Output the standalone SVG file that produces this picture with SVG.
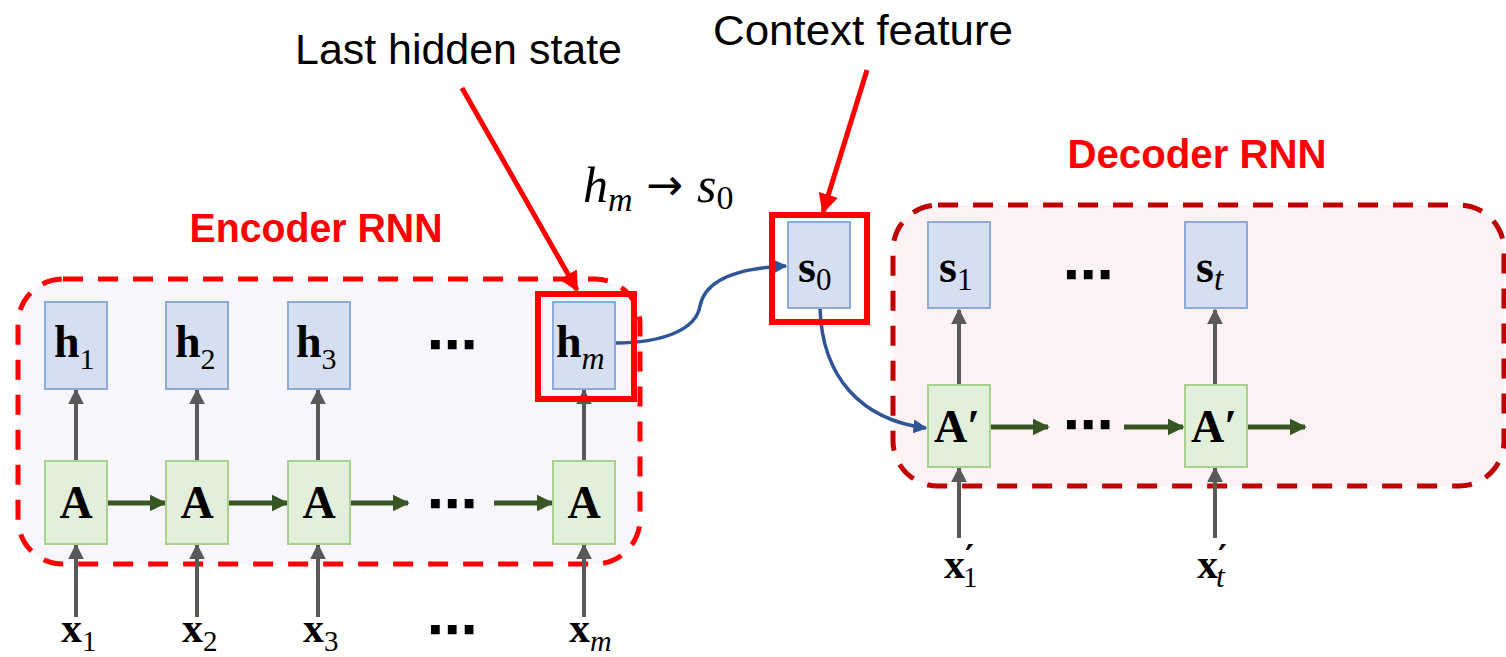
<svg xmlns="http://www.w3.org/2000/svg" width="1506" height="657" viewBox="0 0 1506 657">
  <defs>
    <style>
      .group-enc { fill: #f8f6fc; stroke: #ff0000; stroke-width: 5; stroke-dasharray: 20 15; }
      .group-dec { fill: #fcf2f3; stroke: #c00000; stroke-width: 5; stroke-dasharray: 20 15; }
      .hbox { fill: #d5dff0; stroke: #8eaadb; stroke-width: 2; }
      .abox { fill: #e2efda; stroke: #a9d18e; stroke-width: 2; }
      .hl { fill: none; stroke: #ff0000; stroke-width: 6; }
      .gray { stroke: #595959; stroke-width: 4; fill: none; marker-end: url(#ah-gray); }
      .green { stroke: #375623; stroke-width: 5; fill: none; marker-end: url(#ah-green); }
      .blue { stroke: #2f5597; stroke-width: 3.5; fill: none; marker-end: url(#ah-blue); }
      .red { stroke: #ff0000; stroke-width: 5; fill: none; marker-end: url(#ah-red); }
      .math { font-family: "Liberation Serif", "DejaVu Serif", serif; fill: #000; }
      .bold { font-weight: bold; }
      .it { font-style: italic; }
      .prime { font-family: "DejaVu Sans", sans-serif; font-weight: bold; }
      .sans { font-family: "Liberation Sans", Arial, sans-serif; fill: #000; }
      .title { font-family: "Liberation Sans", Arial, sans-serif; font-weight: bold; fill: #ff0000; font-size: 40px; }
      .dots { font-family: "DejaVu Sans", sans-serif; font-size: 50px; font-weight: bold; fill: #000; }
    </style>
    <marker id="ah-gray" viewBox="0 0 10 10" refX="9" refY="5" markerWidth="4" markerHeight="4" markerUnits="strokeWidth" orient="auto">
      <path d="M0,0 L10,5 L0,10 z" fill="#595959"/>
    </marker>
    <marker id="ah-green" viewBox="0 0 10 10" refX="9" refY="5" markerWidth="3.4" markerHeight="3.4" markerUnits="strokeWidth" orient="auto">
      <path d="M0,0 L10,5 L0,10 z" fill="#375623"/>
    </marker>
    <marker id="ah-blue" viewBox="0 0 10 10" refX="9" refY="5" markerWidth="4" markerHeight="4" markerUnits="strokeWidth" orient="auto">
      <path d="M0,0 L10,5 L0,10 z" fill="#2f5597"/>
    </marker>
    <marker id="ah-red" viewBox="0 0 10 10" refX="9" refY="5" markerWidth="4" markerHeight="4" markerUnits="strokeWidth" orient="auto">
      <path d="M0,0 L10,5 L0,10 z" fill="#ff0000"/>
    </marker>
  </defs>

  <rect width="1506" height="657" fill="#ffffff"/>

  <!-- group frames -->
  <g id="encoder">
    <rect class="group-enc" x="18" y="279" width="622" height="285" rx="45"/>
    <text class="title" x="316" y="242" text-anchor="middle" textLength="253" lengthAdjust="spacingAndGlyphs">Encoder RNN</text>
  </g>
  <g id="decoder">
    <rect class="group-dec" x="893" y="205" width="611" height="281" rx="45"/>
    <text class="title" x="1197" y="168" text-anchor="middle" textLength="259" lengthAdjust="spacingAndGlyphs">Decoder RNN</text>
  </g>

  <!-- connectors -->
  <g id="connectors">
    <!-- encoder: A -> h -->
    <line class="gray" x1="76" y1="461" x2="76" y2="390"/>
    <line class="gray" x1="197" y1="461" x2="197" y2="390"/>
    <line class="gray" x1="318" y1="461" x2="318" y2="390"/>
    <line class="gray" x1="584" y1="461" x2="584" y2="390"/>
    <!-- encoder: x -> A -->
    <line class="gray" x1="76" y1="617" x2="76" y2="545"/>
    <line class="gray" x1="197" y1="617" x2="197" y2="545"/>
    <line class="gray" x1="318" y1="617" x2="318" y2="545"/>
    <line class="gray" x1="584" y1="617" x2="584" y2="545"/>
    <!-- encoder recurrence -->
    <line class="green" x1="107" y1="503" x2="165" y2="503"/>
    <line class="green" x1="228" y1="503" x2="287" y2="503"/>
    <line class="green" x1="349" y1="503" x2="408" y2="503"/>
    <line class="green" x1="494" y1="503" x2="552" y2="503"/>
    <!-- decoder: A' -> s -->
    <line class="gray" x1="959" y1="385" x2="959" y2="310"/>
    <line class="gray" x1="1215" y1="385" x2="1215" y2="310"/>
    <!-- decoder: x' -> A' -->
    <line class="gray" x1="959" y1="538" x2="959" y2="468"/>
    <line class="gray" x1="1215" y1="538" x2="1215" y2="468"/>
    <!-- decoder recurrence -->
    <line class="green" x1="990" y1="427" x2="1048" y2="427"/>
    <line class="green" x1="1124" y1="427" x2="1183" y2="427"/>
    <line class="green" x1="1246" y1="427" x2="1305" y2="427"/>
    <!-- hm to s0 and s0 to A'1 -->
    <path class="blue" d="M615,343 C662,343 696,330 700,306 C705,280 735,268 786,266"/>
    <path class="blue" d="M820,308 C822,378 862,420 926,428"/>
    <!-- callouts -->
    <line class="red" x1="462" y1="88" x2="577" y2="290"/>
    <line class="red" x1="867" y1="70" x2="823" y2="212"/>
  </g>

  <!-- encoder hidden states -->
  <g id="h1">
    <rect class="hbox" x="45" y="302" width="62" height="87"/>
    <text class="math" x="54" y="357"><tspan class="bold" font-size="46">h</tspan><tspan font-size="30" dy="12">1</tspan></text>
  </g>
  <g id="h2">
    <rect class="hbox" x="166" y="302" width="62" height="87"/>
    <text class="math" x="175" y="357"><tspan class="bold" font-size="46">h</tspan><tspan font-size="30" dy="12">2</tspan></text>
  </g>
  <g id="h3">
    <rect class="hbox" x="288" y="302" width="62" height="87"/>
    <text class="math" x="296" y="357"><tspan class="bold" font-size="46">h</tspan><tspan font-size="30" dy="12">3</tspan></text>
  </g>
  <g id="h-dots"><text class="dots" x="452" y="362" text-anchor="middle">⋯</text></g>
  <g id="hm">
    <rect class="hbox" x="553" y="302" width="62" height="87"/>
    <text class="math" x="556" y="357"><tspan class="bold" font-size="46">h</tspan><tspan class="it" font-size="32" dy="12">m</tspan></text>
    <rect class="hl" x="538" y="294" width="96" height="105"/>
  </g>

  <!-- encoder cells -->
  <g id="a1">
    <rect class="abox" x="45" y="461" width="62" height="83"/>
    <text class="math bold" x="76" y="518" font-size="46" text-anchor="middle">A</text>
  </g>
  <g id="a2">
    <rect class="abox" x="166" y="461" width="62" height="83"/>
    <text class="math bold" x="197" y="518" font-size="46" text-anchor="middle">A</text>
  </g>
  <g id="a3">
    <rect class="abox" x="288" y="461" width="62" height="83"/>
    <text class="math bold" x="319" y="518" font-size="46" text-anchor="middle">A</text>
  </g>
  <g id="a-dots"><text class="dots" x="452" y="521" text-anchor="middle">⋯</text></g>
  <g id="am">
    <rect class="abox" x="553" y="461" width="62" height="83"/>
    <text class="math bold" x="584" y="518" font-size="46" text-anchor="middle">A</text>
  </g>

  <!-- encoder inputs -->
  <g id="x1"><text class="math" x="61" y="642"><tspan class="bold" font-size="42">x</tspan><tspan font-size="29" dy="9">1</tspan></text></g>
  <g id="x2"><text class="math" x="182" y="642"><tspan class="bold" font-size="42">x</tspan><tspan font-size="29" dy="9">2</tspan></text></g>
  <g id="x3"><text class="math" x="303" y="642"><tspan class="bold" font-size="42">x</tspan><tspan font-size="29" dy="9">3</tspan></text></g>
  <g id="x-dots"><text class="dots" x="452" y="647" text-anchor="middle">⋯</text></g>
  <g id="xm"><text class="math" x="569" y="642"><tspan class="bold" font-size="42">x</tspan><tspan class="it" font-size="30" dy="9">m</tspan></text></g>

  <!-- context vector -->
  <g id="s0">
    <rect class="hbox" x="788" y="222" width="62" height="86"/>
    <text class="math" x="798" y="282"><tspan class="bold" font-size="46">s</tspan><tspan font-size="31" dy="8">0</tspan></text>
    <rect class="hl" x="772" y="215" width="95" height="107"/>
  </g>

  <!-- decoder states -->
  <g id="s1">
    <rect class="hbox" x="928" y="222" width="62" height="86"/>
    <text class="math" x="939" y="282"><tspan class="bold" font-size="46">s</tspan><tspan font-size="31" dy="8">1</tspan></text>
  </g>
  <g id="s-dots"><text class="dots" x="1088" y="292" text-anchor="middle">⋯</text></g>
  <g id="st">
    <rect class="hbox" x="1185" y="222" width="62" height="86"/>
    <text class="math" x="1196" y="282"><tspan class="bold" font-size="46">s</tspan><tspan class="it" font-size="33" dy="8">t</tspan></text>
  </g>

  <!-- decoder cells -->
  <g id="ap1">
    <rect class="abox" x="928" y="385" width="62" height="82"/>
    <text class="math bold" x="957" y="442" font-size="46" text-anchor="middle">A′</text>
  </g>
  <g id="ap-dots"><text class="dots" x="1088" y="442" text-anchor="middle">⋯</text></g>
  <g id="apt">
    <rect class="abox" x="1185" y="385" width="62" height="82"/>
    <text class="math bold" x="1214" y="442" font-size="46" text-anchor="middle">A′</text>
  </g>

  <!-- decoder inputs: bold x, prime raised, subscript lowered under the prime -->
  <g id="xp1">
    <text class="math" x="944" y="578"><tspan class="bold" font-size="42">x</tspan><tspan class="prime" font-size="34" dx="0" dy="-9">′</tspan><tspan font-size="29" dx="-11" dy="18">1</tspan></text>
  </g>
  <g id="xpt">
    <text class="math" x="1197" y="578"><tspan class="bold" font-size="42">x</tspan><tspan class="prime" font-size="34" dx="0" dy="-9">′</tspan><tspan class="it" font-size="31" dx="-11" dy="18">t</tspan></text>
  </g>

  <!-- annotations -->
  <g id="mapping">
    <text class="math it" x="583" y="202" font-size="50">h<tspan font-size="34" dy="9">m</tspan></text>
    <text font-family="DejaVu Sans, sans-serif" x="646" y="200" font-size="44">→</text>
    <text class="math it" x="697" y="202" font-size="50">s<tspan font-style="normal" font-size="34" dy="7">0</tspan></text>
  </g>
  <g id="label-last">
    <text class="sans" x="295" y="64" font-size="42" textLength="327" lengthAdjust="spacingAndGlyphs">Last hidden state</text>
  </g>
  <g id="label-context">
    <text class="sans" x="713" y="45" font-size="42" textLength="300" lengthAdjust="spacingAndGlyphs">Context feature</text>
  </g>
</svg>
